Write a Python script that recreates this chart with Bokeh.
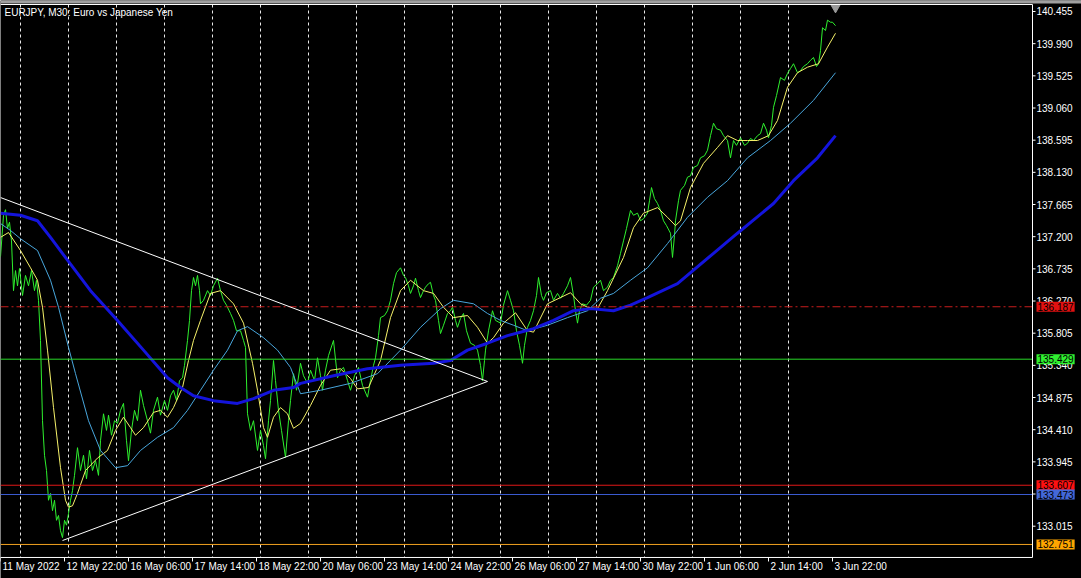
from bokeh.plotting import figure
from bokeh.models import Range1d, Label, BoxAnnotation
from bokeh.embed import file_html
from bokeh.resources import INLINE
from bokeh.core.properties import value

# ---- data (bar index on M30, 0 = 11 May 2022 14:00) ----
close_bar = [0,3,5,7,9,11,13,15,17,19,22,25,28,31,34,36,38,40,42,44,46,48,50,52,54,56,58,60,62,64,66,68,70,72,74,77,80,83,86,89,92,95,98,100,103,106,108,111,114,117,120,123,126,128,131,134,137,140,143,147,150,153,157,160,164,167,170,173,176,179,182,184,187,189,191,193,195,197,199,200,203,207,210,213,217,220,223,226,230,233,236,240,243,245,247,250,253,257,260,263,265,268,270,273,275,278,281,285,288,290,293,296,300,303,307,310,314,317,320,322,325,328,333,337,340,343,347,350,354,358,362,367,370,373,375,378,380,384,387,390,393,396,400,403,405,408,410,413,415,418,420,423,425,428,430,433,435,438,440,443,447,450,452,455,457,460,463,466,470,474,477,480,482,484,485,488,492,495,500,503,507,510,513,516,519,522,524,527,530,533,536,538,541,543,546,550,553,557,560,563,567,570,573,575,577,579,582,586,590,593,597,600,603,607,610,613,617,620,623,626,630,633,637,640,643,647,649,651,654,657,660,663,666,670,672,674,675,678,680,684,687,690,693,697,700,704,707,710,712,713,716,720,723,727,730,733,736,740,744,747,750,753,757,760,763,766,768,771,773,776,780,784,787,790,793,797,800,803,807,810,813,816,818,820,822,825,827,830,832,835]
close = [136.91,137.51,137.59,137.32,137.41,137.14,136.42,136.71,136.49,136.74,136.35,136.64,136.49,136.71,136.42,136.57,136.28,135.70,134.54,134.04,133.82,133.39,133.49,133.24,133.39,133.10,133.17,132.95,132.85,133.10,133.03,133.20,133.39,133.53,133.75,134.15,133.82,134.04,133.70,134.11,133.82,133.96,133.75,134.25,134.64,134.40,134.62,134.33,134.54,134.50,134.69,134.79,134.25,133.96,134.40,134.69,134.54,134.98,134.76,134.54,134.36,134.69,134.88,134.62,134.83,134.69,134.90,134.98,134.83,135.12,135.16,135.34,135.70,135.99,136.42,136.61,136.49,136.64,136.42,136.23,136.28,136.42,136.35,136.49,136.60,136.42,136.28,136.21,136.09,135.99,135.84,135.84,135.70,135.60,134.64,134.40,134.54,134.11,134.40,134.18,133.99,134.54,134.83,135.41,135.12,134.69,134.40,134.01,134.54,134.83,135.22,134.98,135.37,135.19,135.08,135.27,135.12,135.45,135.19,134.98,135.27,135.48,135.70,135.16,135.27,135.31,135.12,134.98,135.19,135.31,135.05,134.88,135.12,135.34,135.45,135.77,136.03,136.06,136.13,136.28,136.52,136.68,136.75,136.64,136.61,136.49,136.38,136.49,136.60,136.42,136.32,136.42,136.47,136.52,136.54,136.35,136.28,135.99,135.80,135.92,136.09,136.13,136.18,135.99,135.89,136.02,136.09,135.84,135.66,135.63,135.56,135.34,135.12,135.41,135.56,135.84,136.13,135.99,135.95,136.21,136.42,136.28,136.13,135.84,135.63,135.37,135.63,135.89,135.99,136.13,136.35,136.61,136.35,136.28,136.39,136.42,136.28,136.38,136.31,136.38,136.49,136.61,136.35,136.13,135.95,136.13,136.23,136.21,136.28,136.47,136.52,136.57,136.42,136.47,136.57,136.61,136.78,136.96,137.14,137.32,137.58,137.51,137.54,137.43,137.46,137.54,137.72,137.91,137.75,137.68,137.58,137.43,137.36,137.25,136.90,137.22,137.43,137.72,137.87,137.94,138.06,138.08,138.20,138.23,138.34,138.37,138.45,138.66,138.78,138.84,138.76,138.74,138.66,138.59,138.34,138.59,138.52,138.63,138.52,138.55,138.62,138.59,138.66,138.69,138.84,138.74,138.63,138.81,139.07,139.24,139.50,139.46,139.56,139.63,139.70,139.57,139.60,139.66,139.70,139.75,139.79,139.66,139.70,139.89,140.22,140.18,140.33,140.30,140.30,140.25]

ma_fast_bar = [0,8,20,30,37,42,47,53,60,65,68,72,77,85,97,107,115,123,130,135,143,153,160,167,173,182,188,193,200,210,220,233,243,252,257,263,267,273,280,287,293,300,310,320,330,340,350,357,368,380,390,400,410,423,433,443,453,467,477,487,493,503,515,527,533,547,560,570,580,587,597,607,623,633,643,657,667,675,680,690,703,717,727,737,747,757,768,777,787,797,807,818,827,835]
ma_fast = [137.19,137.26,137.00,136.75,136.57,136.18,135.56,134.73,133.86,133.39,133.29,133.31,133.49,133.82,134.00,134.11,134.40,134.59,134.44,134.33,134.44,134.66,134.69,134.59,134.73,135.02,135.41,135.70,135.99,136.38,136.42,136.23,135.95,135.37,134.98,134.44,134.30,134.59,134.73,134.64,134.43,134.50,134.76,135.05,135.27,135.29,135.15,135.00,135.02,135.41,136.03,136.42,136.57,136.42,136.38,136.18,136.03,136.06,135.89,135.66,135.74,135.95,136.10,135.84,135.82,136.23,136.32,136.39,136.23,136.18,136.16,136.42,136.90,137.33,137.54,137.62,137.48,137.36,137.43,137.91,138.26,138.49,138.66,138.59,138.59,138.59,138.66,138.88,139.36,139.57,139.65,139.70,139.94,140.14]

ma_mid_bar = [0,10,20,37,50,58,68,75,88,100,115,127,140,157,173,187,200,213,227,237,247,263,277,290,300,320,350,377,400,420,440,453,473,487,500,513,527,547,567,587,600,613,630,647,667,687,707,727,747,770,790,813,835]
ma_mid = [137.39,137.29,137.17,137.00,136.57,136.18,135.60,135.22,134.54,134.11,133.86,133.89,134.11,134.30,134.44,134.69,134.98,135.27,135.56,135.84,135.90,135.74,135.56,135.31,134.93,134.98,135.08,135.22,135.56,135.89,136.16,136.28,136.23,136.09,135.99,135.92,135.84,135.92,136.03,136.13,136.31,136.38,136.57,136.75,137.10,137.48,137.77,138.01,138.34,138.59,138.84,139.17,139.57]

ma_slow_bar = [0,20,37,50,67,90,117,143,167,180,193,213,237,253,273,293,300,333,367,400,433,450,467,487,507,533,553,573,590,613,630,647,677,713,737,773,793,817,835]
ma_slow = [137.54,137.51,137.43,137.19,136.86,136.42,135.99,135.56,135.16,135.02,134.90,134.83,134.79,134.86,134.98,135.02,135.08,135.19,135.29,135.34,135.37,135.41,135.56,135.66,135.77,135.87,135.99,136.13,136.16,136.13,136.21,136.32,136.52,136.96,137.25,137.68,138.01,138.34,138.66]

trend_upper_bar = [0, 487]
trend_upper = [137.766, 135.107]
trend_lower_bar = [62, 487]
trend_lower = [132.808, 135.107]

levels = [136.187, 135.429, 133.607, 133.473, 132.751]
level_box_colors = ["#e01010", "#30f030", "#ff1010", "#4468d8", "#ffa500"]
level_line_colors = ["#c81c1c", "#28d828", "#e01818", "#3a5ad0", "#f0a020"]
level_dash = ["8 3 2 3", "solid", "solid", "solid", "solid"]

price_ticks = [133.015, 133.480, 133.945, 134.410, 134.875, 135.340, 135.805, 136.270,
               136.735, 137.200, 137.665, 138.130, 138.595, 139.060, 139.525, 139.990, 140.455]

time_label_bar = [0, 64, 128, 192, 256, 320, 384, 448, 512, 576, 640, 704, 768, 832]
time_labels = ["11 May 2022", "12 May 22:00", "16 May 06:00", "17 May 14:00", "18 May 22:00",
               "20 May 06:00", "23 May 14:00", "24 May 22:00", "26 May 06:00", "27 May 14:00",
               "30 May 22:00", "1 Jun 06:00", "2 Jun 14:00", "3 Jun 22:00"]
day_start_bar = list(range(20, 833, 48))  # one separator per trading day (48 M30 bars)

title_text = "EURJPY, M30:  Euro vs Japanese Yen"

# ---- layout of the MT-style window, in the chart's own units ----
VIEW_BARS = (0, 1081)            # 1 bar per pixel across the window
VIEW_PRICE = (132.259, 140.614)  # window bottom / top
CHART_TOP = 140.556              # upper frame line
CHART_BOTTOM = 132.563           # lower frame line (time scale)
SCALE_X = 1032                   # price scale line (bars)
TICK_LEN_X = 3                   # price-scale tick, in bars
TICK_LEN_Y = 0.058               # time-scale tick, in price
LABEL_TOP = 132.519              # top of time labels

FONT = "Liberation Sans"

p = figure(width=1081, height=578, output_backend="svg", toolbar_location=None,
           x_range=Range1d(*VIEW_BARS), y_range=Range1d(*VIEW_PRICE),
           x_axis_location=None, y_axis_location=None, title=None,
           background_fill_color="black", border_fill_color="black",
           outline_line_color=None, min_border=0)
p.xgrid.visible = False
p.ygrid.visible = False
for g in p.grid:
    g.grid_line_color = None

# window strip at top
p.add_layout(BoxAnnotation(bottom=140.572, top=VIEW_PRICE[1], fill_color="#a0a0a0",
                           fill_alpha=1, line_color=None))

# day separators
p.segment(x0=day_start_bar, y0=[CHART_TOP] * len(day_start_bar),
          x1=day_start_bar, y1=[CHART_BOTTOM] * len(day_start_bar),
          line_color="#e8e8e8", line_width=1, line_dash="3 3")

# price and moving averages
p.line(close_bar, close, line_color="#2ef02e", line_width=1)
p.line(ma_fast_bar, ma_fast, line_color="#f6f26a", line_width=1)
p.line(ma_mid_bar, ma_mid, line_color="#48a6dc", line_width=1)
p.line(ma_slow_bar, ma_slow, line_color="#1414dc", line_width=3)

# horizontal levels
for lv, lc, ld in zip(levels, level_line_colors, level_dash):
    p.line([VIEW_BARS[0], SCALE_X], [lv, lv], line_color=lc, line_width=1, line_dash=ld)

# triangle trend lines
p.line(trend_upper_bar, trend_upper, line_color="white", line_width=1)
p.line(trend_lower_bar, trend_lower, line_color="white", line_width=1)

# shift marker at top of last bar
p.scatter([close_bar[-1]], [140.51], marker="inverted_triangle", size=9,
          fill_color="#9a9a9a", line_color="#9a9a9a")

# chart frame: top, price scale, time scale
p.line([VIEW_BARS[0], SCALE_X, SCALE_X, VIEW_BARS[0]],
       [CHART_TOP, CHART_TOP, CHART_BOTTOM, CHART_BOTTOM], line_color="white", line_width=1)

# price scale ticks and labels
p.segment(x0=[SCALE_X] * len(price_ticks), y0=price_ticks,
          x1=[SCALE_X + TICK_LEN_X] * len(price_ticks), y1=price_ticks,
          line_color="white", line_width=1)
p.text(x=[SCALE_X + TICK_LEN_X + 1] * len(price_ticks), y=price_ticks,
       text=[f"{t:.3f}" for t in price_ticks], text_font=value(FONT),
       text_font_size=value("10px"), text_color="white",
       text_baseline="middle", text_align="left")

# time scale ticks and labels
p.segment(x0=time_label_bar, y0=[CHART_BOTTOM] * len(time_label_bar),
          x1=time_label_bar, y1=[CHART_BOTTOM - TICK_LEN_Y] * len(time_label_bar),
          line_color="white", line_width=1)
p.text(x=time_label_bar, y=[LABEL_TOP] * len(time_label_bar), text=time_labels,
       x_offset=2, text_font=value(FONT), text_font_size=value("10px"),
       text_color="white", text_baseline="top", text_align="left")

# price level labels on the price scale
for lv, fc in zip(levels, level_box_colors):
    p.add_layout(Label(x=SCALE_X + 4, y=lv, text=f"{lv:.3f}", text_font=FONT,
                       text_font_size="10px", text_color="black",
                       text_baseline="middle", text_align="left",
                       background_fill_color=fc, padding=1))

# chart title
p.add_layout(Label(x=4, y=140.44, text=title_text, text_font=FONT, text_font_size="10px",
                   text_color="white", text_baseline="middle", text_align="left"))

open("out.html", "w").write(file_html(p, INLINE))
